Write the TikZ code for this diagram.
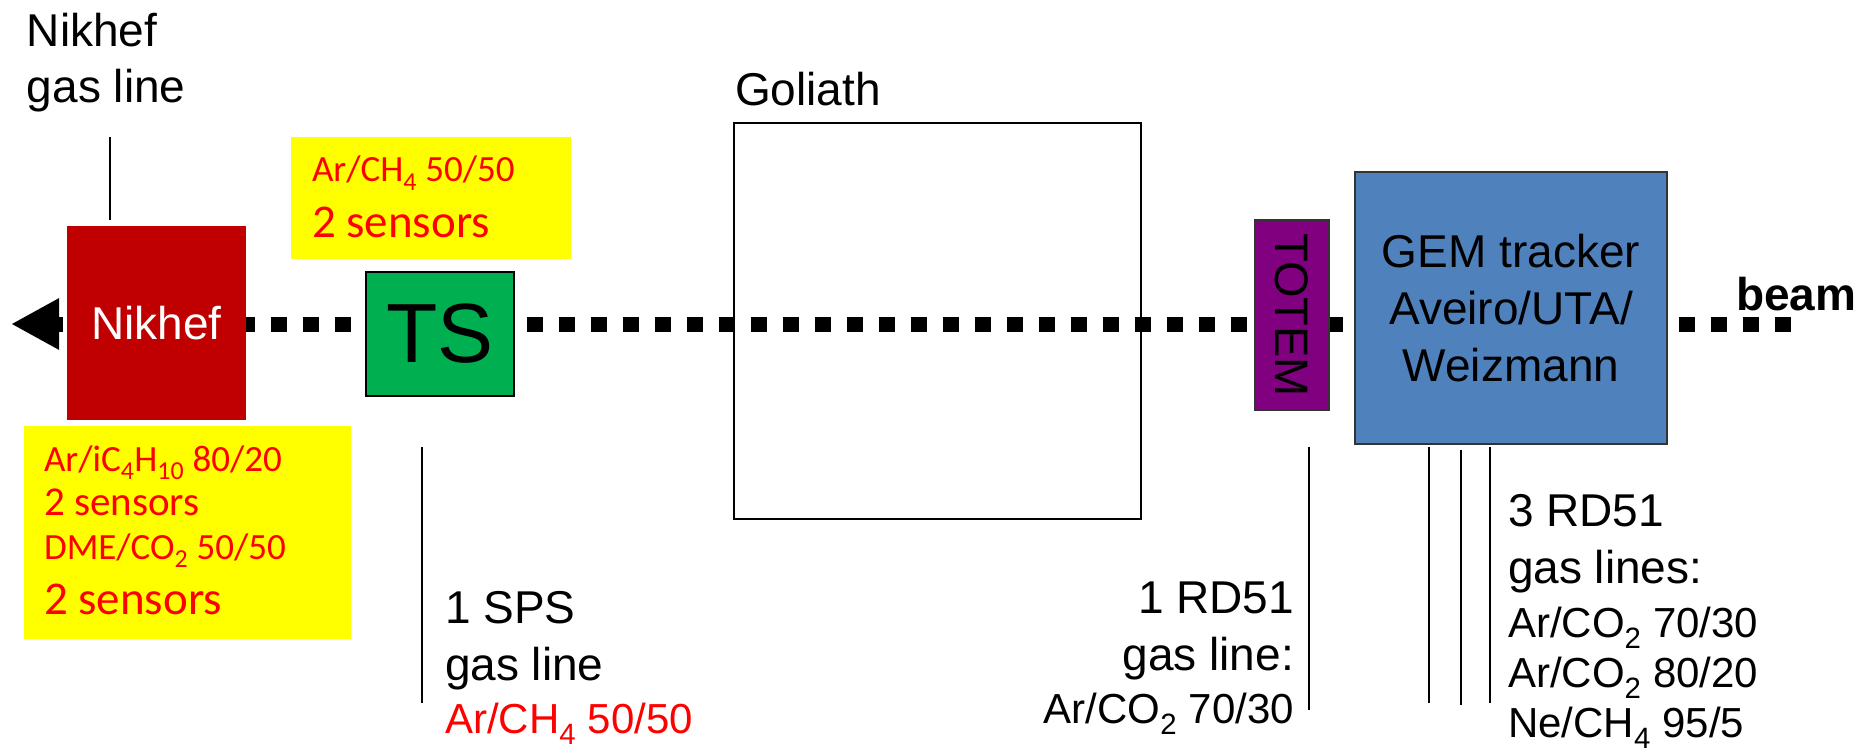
\documentclass[tikz,border=0pt]{standalone}
\usepackage{fontspec}
\setmainfont{Liberation Sans}
\newfontfamily\calib{Carlito}
\usetikzlibrary{arrows.meta}
\definecolor{nikred}{HTML}{C00000}
\definecolor{tsgreen}{HTML}{00B050}
\definecolor{gemblue}{HTML}{4F81BD}
\definecolor{totemc}{HTML}{800080}
\definecolor{ylw}{HTML}{FFFF00}
\definecolor{txtred}{HTML}{FF0000}
\begin{document}
\begin{tikzpicture}[x=1pt,y=-1pt,
  every node/.style={inner sep=0pt,outer sep=0pt},
  hdr/.style={font=\fontsize{46}{56}\selectfont},
  hdrL/.style={hdr,anchor=base west},
  hdrR/.style={hdr,anchor=base east},
  gasfont/.style={font=\fontsize{42}{50}\selectfont},
  gasL/.style={gasfont,anchor=base west},
  gasR/.style={gasfont,anchor=base east},
  note/.style={font=\calib\fontsize{37}{44}\selectfont,text=txtred,anchor=base west},
  notebig/.style={font=\calib\fontsize{47}{56}\selectfont,text=txtred,anchor=base west},
  pipe/.style={line width=2pt},
  frame/.style={draw=black,line width=2pt},
  beamline/.style={line width=15pt,dash pattern=on 16pt off 16pt,-{Triangle[length=48pt,width=48pt]}}
]
\useasboundingbox[fill=white] (0,0) rectangle (1861,749);

% beam
\coordinate (beamR) at (1791,324);
\coordinate (beamL) at (11,324);
\draw[beamline] (beamR) -- (beamL);

% Nikhef
\node[fill=nikred,minimum width=179pt,minimum height=194pt,text=white,hdr] (nikhef) at (156.5,323) {Nikhef};
\node[hdrL] (nikt1) at (27,47) {Nikhef};
\node[hdrL] (nikt2) at (27,103) {gas line};
\coordinate (nikgA) at (110,137);
\coordinate (nikgB) at (110,220);
\draw[pipe] (nikgA) -- (nikgB);

% yellow boxes
\node[fill=ylw,minimum width=280pt,minimum height=122pt] (ytop) at (431,198) {};
\node[note] (ytop1) at (312,182) {Ar/CH\textsubscript{4} 50/50};
\node[notebig] (ytop2) at (312,237) {2 sensors};

\node[fill=ylw,minimum width=327pt,minimum height=213pt] (ybot) at (187.5,532.5) {};
\node[note] (yb1) at (44,471) {Ar/iC\textsubscript{4}H\textsubscript{10} 80/20};
\node[note,font=\calib\fontsize{41}{48}\selectfont] (yb2) at (44,515) {2 sensors};
\node[note] (yb3) at (44,559) {DME/CO\textsubscript{2} 50/50};
\node[notebig] (yb4) at (44,614) {2 sensors};

% TS
\node[frame,fill=tsgreen,minimum width=148pt,minimum height=124pt,font=\fontsize{84}{90}\selectfont] (ts) at (440,334) {TS};
\coordinate (spsA) at (422,447);
\coordinate (spsB) at (422,703);
\draw[pipe] (spsA) -- (spsB);
\node[hdrL] (sps1) at (445,623) {1 SPS};
\node[hdrL] (sps2) at (445,680) {gas line};
\node[gasL,text=txtred] (sps3) at (445,733) {Ar/CH\textsubscript{4} 50/50};

% Goliath
\node[frame,minimum width=407pt,minimum height=396pt] (goliath) at (937.5,321) {};
\node[hdrL] (golabel) at (735,106) {Goliath};

% TOTEM
\node[draw=black!80,line width=2pt,fill=totemc,rotate=-90,minimum width=190pt,minimum height=74pt,font=\fontsize{47}{56}\selectfont] (totem) at (1292,315) {TOTEM};
\coordinate (totA) at (1309,447);
\coordinate (totB) at (1309,710);
\draw[pipe] (totA) -- (totB);
\node[hdrR] (rd1a) at (1294,613) {1 RD51};
\node[hdrR] (rd1b) at (1294,670) {gas line:};
\node[gasR] (rd1c) at (1294,723) {Ar/CO\textsubscript{2} 70/30};

% GEM tracker
\node[draw=black!80,line width=2pt,fill=gemblue,minimum width=312pt,minimum height=272pt,align=center,font=\fontsize{46}{57}\selectfont] (gem) at (1511,308) {GEM tracker\\Aveiro/UTA/\\Weizmann};
\coordinate (g1A) at (1429,447);
\coordinate (g1B) at (1429,703);
\coordinate (g2A) at (1461,450);
\coordinate (g2B) at (1461,705);
\coordinate (g3A) at (1490,447);
\coordinate (g3B) at (1490,703);
\draw[pipe] (g1A) -- (g1B);
\draw[pipe] (g2A) -- (g2B);
\draw[pipe] (g3A) -- (g3B);
\node[hdrL] (rd3a) at (1508,526) {3 RD51};
\node[hdrL] (rd3b) at (1508,583) {gas lines:};
\node[gasL] (rd3c) at (1508,637) {Ar/CO\textsubscript{2} 70/30};
\node[gasL] (rd3d) at (1508,687) {Ar/CO\textsubscript{2} 80/20};
\node[gasL] (rd3e) at (1508,737) {Ne/CH\textsubscript{4} 95/5};

\node[anchor=base west,font=\bfseries\fontsize{46}{56}\selectfont] (beamlabel) at (1736,310) {beam};
\end{tikzpicture}
\end{document}
